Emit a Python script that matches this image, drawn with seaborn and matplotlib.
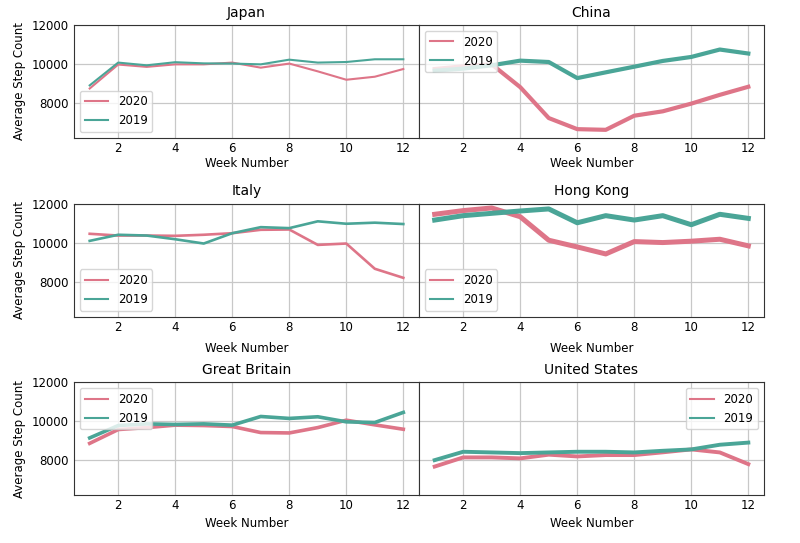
import pandas as pd
import seaborn as sns
import matplotlib
matplotlib.use('Agg')
import matplotlib.pyplot as plt

# Dados
semanas = list(range(1, 13))

japan_2020 = [8740, 9970, 9850, 9980, 9980, 10070, 9810, 10020, 9620, 9190, 9345, 9740]
japan_2019 = [8900, 10070, 9930, 10090, 10030, 10020, 9980, 10220, 10070, 10100, 10240, 10240]

china_2020 = [9740, 9880, 9980, 8810, 7225, 6655, 6620, 7345, 7570, 7965, 8415, 8830]
china_2019 = [9655, 9760, 9930, 10170, 10100, 9275, 9570, 9860, 10155, 10360, 10740, 10535]

italy_2020 = [10450, 10360, 10360, 10345, 10400, 10480, 10655, 10670, 9880, 9950, 8655, 8190]
italy_2019 = [10086, 10400, 10360, 10170, 9950, 10480, 10790, 10740, 11090, 10965, 11020, 10950]

hk_2020 = [11450, 11640, 11775, 11325, 10120, 9775, 9415, 10050, 10000, 10070, 10170, 9830]
hk_2019 = [11155, 11380, 11500, 11620, 11725, 11015, 11380, 11155, 11380, 10915, 11450, 11240]

gb_2020 = [8860, 9570, 9670, 9795, 9775, 9725, 9415, 9395, 9670, 10050, 9810, 9585]
gb_2019 = [9140, 9775, 9860, 9830, 9860, 9795, 10240, 10140, 10225, 9965, 9930, 10450]

us_2020 = [7670, 8140, 8140, 8090, 8280, 8190, 8260, 8260, 8400, 8550, 8395, 7795]
us_2019 = [8000, 8430, 8395, 8360, 8395, 8430, 8430, 8395, 8480, 8550, 8790, 8900]

paises = ['Japan', 'China', 'Italy', 'Hong Kong', 'Great Britain', 'United States']
dados = {
    'Japan': (japan_2020, japan_2019),
    'China': (china_2020, china_2019),
    'Italy': (italy_2020, italy_2019),
    'Hong Kong': (hk_2020, hk_2019),
    'Great Britain': (gb_2020, gb_2019),
    'United States': (us_2020, us_2019),
}
espessura = {'Japan': 1.5, 'China': 3.0, 'Italy': 1.9, 'Hong Kong': 3.6,
             'Great Britain': 2.6, 'United States': 2.8}
legenda_pos = {'Japan': 'lower left', 'China': 'upper left', 'Italy': 'lower left',
               'Hong Kong': 'lower left', 'Great Britain': 'upper left',
               'United States': 'upper right'}
# espaço do rótulo "Week Number" por linha da grade
rotulo_pad = [1, 6, 3]

cores = {'2020': '#de7588', '2019': '#4aa597'}

plt.rcParams['font.family'] = ['DejaVu Sans']

fig, axes = plt.subplots(3, 2, figsize=(8, 5.43), dpi=100)
fig.subplots_adjust(left=0.0925, right=0.955, top=0.954, bottom=0.088,
                    wspace=0, hspace=0.58)

for i, pais in enumerate(paises):
    ax = axes[i // 2][i % 2]
    v2020, v2019 = dados[pais]
    df = pd.DataFrame({
        'semana': semanas * 2,
        'passos': v2020 + v2019,
        'ano': ['2020'] * 12 + ['2019'] * 12,
    })
    sns.lineplot(data=df, x='semana', y='passos', hue='ano', palette=cores,
                 linewidth=espessura[pais], ax=ax)
    ax.set_ylim(6200, 12000)
    ax.set_yticks([8000, 10000, 12000])
    ax.set_xticks([2, 4, 6, 8, 10, 12])
    ax.grid(True, color='#c8c8c8', linewidth=0.9)
    ax.set_axisbelow(True)
    for s in ax.spines.values():
        s.set_color('#333333')
    ax.set_title(pais, fontsize=10)
    ax.set_xlabel('Week Number', fontsize=8.5, labelpad=rotulo_pad[i // 2])
    ax.tick_params(labelsize=8.5, length=0)
    ax.tick_params(axis='x', pad=3)
    if i % 2 == 0:
        ax.set_ylabel('Average Step Count', fontsize=8.5)
    else:
        ax.set_ylabel('')
        ax.set_yticklabels([])
    leg = ax.legend(loc=legenda_pos[pais], fontsize=8.5)
    for linha in leg.get_lines():
        linha.set_linewidth(1.5)

plt.savefig('out.png', dpi=100)
